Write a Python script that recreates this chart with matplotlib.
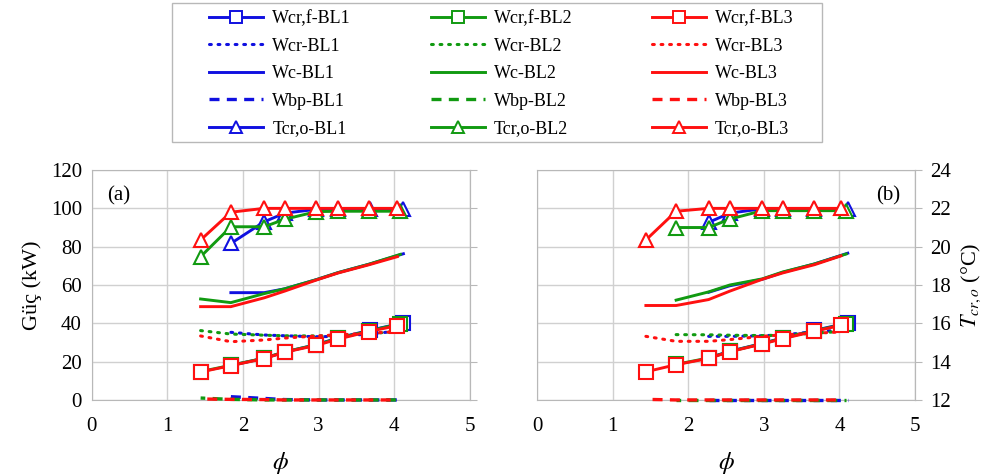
import numpy as np
import matplotlib
matplotlib.use('Agg')
import matplotlib.pyplot as plt
from matplotlib.lines import Line2D
from matplotlib.patches import Rectangle

plt.rcParams['font.family'] = ['Liberation Serif', 'DejaVu Serif']
plt.rcParams['mathtext.fontset'] = 'stix'

# ---- data, panel (a) ----
phi_a1 = [1.84, 2.28, 2.55, 2.97, 3.26, 3.68, 4.12]
phi_a2 = [1.44, 1.84, 2.28, 2.55, 2.97, 3.26, 3.66, 4.08]
phi_a3 = [1.44, 1.84, 2.28, 2.55, 2.97, 3.26, 3.66, 4.04]

wcrf_a1 = [18.0, 21.8, 25.0, 28.9, 32.4, 36.4, 40.2]
wcrf_a2 = [14.8, 18.1, 21.8, 25.1, 28.8, 32.2, 36.0, 39.8]
wcrf_a3 = [14.6, 17.9, 21.6, 24.9, 28.5, 31.8, 35.7, 38.8]

wcr_a1 = [35.3, 33.9, 33.5, 33.0, 33.2, 34.5, 36.2]
wcr_a2 = [36.2, 34.4, 33.8, 33.5, 33.4, 33.6, 34.6, 35.8]
wcr_a3 = [33.4, 30.4, 31.3, 32.3, 33.4, 34.0, 34.8, 35.7]

wc_a1 = [56.0, 56.0, 58.0, 62.8, 66.5, 71.0, 76.3]
wc_a2 = [52.7, 50.8, 55.5, 58.0, 62.8, 66.5, 70.8, 76.0]
wc_a3 = [48.7, 48.7, 53.3, 56.8, 62.6, 66.3, 70.5, 74.8]

wbp_a1 = [1.7, 0.8, 0.2, 0.0, 0.0, 0.0, 0.0]
wbp_a2 = [1.0, 0.3, 0.0, 0.0, 0.0, 0.0, 0.0, 0.0]
wbp_a3 = [0.5, 0.3, 0.2, 0.0, 0.0, 0.0, 0.0, 0.0]

tcro_a1 = [20.17, 21.30, 21.75, 21.95, 21.98, 21.98, 21.95]
tcro_a2 = [19.48, 21.04, 21.04, 21.43, 21.83, 21.85, 21.85, 21.85]
tcro_a3 = [20.35, 21.80, 22.0, 22.0, 22.0, 22.0, 22.0, 22.0]

# ---- data, panel (b) ----
phi_b1 = [2.27, 2.55, 2.98, 3.25, 3.67, 4.11]
phi_b2 = [1.84, 2.27, 2.55, 2.98, 3.25, 3.67, 4.09]
phi_b3 = [1.44, 1.84, 2.27, 2.55, 2.98, 3.25, 3.67, 4.02]

wcrf_b1 = [22.0, 25.4, 29.5, 32.4, 36.3, 40.2]
wcrf_b2 = [18.6, 21.9, 25.3, 29.4, 32.2, 36.1, 39.8]
wcrf_b3 = [14.7, 18.4, 21.7, 25.2, 29.2, 32.0, 35.8, 39.0]

wcr_b1 = [33.2, 33.2, 33.5, 34.0, 35.5, 36.8]
wcr_b2 = [34.1, 34.0, 33.8, 33.6, 33.8, 34.8, 36.0]
wcr_b3 = [33.2, 30.6, 30.6, 31.5, 33.2, 34.0, 34.8, 35.5]

wc_b1 = [56.2, 59.6, 63.0, 66.6, 71.0, 76.6]
wc_b2 = [52.1, 56.4, 60.0, 63.2, 66.8, 71.0, 76.2]
wc_b3 = [49.3, 49.3, 52.4, 56.8, 63.0, 66.3, 70.6, 75.2]

wbp_b1 = [0.0, 0.0, 0.0, 0.0, 0.0, 0.0]
wbp_b2 = [0.0, 0.0, 0.0, 0.0, 0.0, 0.0, 0.0]
wbp_b3 = [0.3, 0.0, 0.0, 0.0, 0.0, 0.0, 0.0, 0.0]

tcro_b1 = [21.27, 21.75, 21.98, 21.98, 21.98, 21.95]
tcro_b2 = [21.00, 21.00, 21.44, 21.88, 21.88, 21.88, 21.88]
tcro_b3 = [20.35, 21.85, 22.0, 22.0, 22.0, 22.0, 22.0, 22.0]

colors = ['#1010e0', '#119a11', '#ff1010']
bl_names = ['BL1', 'BL2', 'BL3']
gridc = '#d0d0d0'
spc = '#b8b8b8'

panels = [
    ([phi_a1, phi_a2, phi_a3], [wcrf_a1, wcrf_a2, wcrf_a3], [wcr_a1, wcr_a2, wcr_a3],
     [wc_a1, wc_a2, wc_a3], [wbp_a1, wbp_a2, wbp_a3], [tcro_a1, tcro_a2, tcro_a3]),
    ([phi_b1, phi_b2, phi_b3], [wcrf_b1, wcrf_b2, wcrf_b3], [wcr_b1, wcr_b2, wcr_b3],
     [wc_b1, wc_b2, wc_b3], [wbp_b1, wbp_b2, wbp_b3], [tcro_b1, tcro_b2, tcro_b3]),
]

fig = plt.figure(figsize=(9.93, 4.75), dpi=100)
ax_rects = [[0.0923, 0.158, 0.381, 0.484], [0.5408, 0.158, 0.3807, 0.484]]

lw = 2.1
dot = dict(ls=(0, (0.6, 2.2)), lw=2.2, dash_capstyle='round')
dash = dict(ls=(0, (3, 2.2)), lw=2.4)
dash_offsets = [0, 1.6, 3.2]  # shift dash phase so all three colours show along y=0
for i, (rect, data) in enumerate(zip(ax_rects, panels)):
    phis, wcrf, wcr, wc, wbp, tcro = data
    ax = fig.add_axes(rect)
    ax2 = ax.twinx()
    for k in range(3):
        c = colors[k]
        ax.plot(phis[k], wcr[k], color=c, **dot)
        ax.plot(phis[k], wc[k], '-', color=c, lw=lw)
        ax.plot(phis[k], wbp[k], color=c, clip_on=False, zorder=3, lw=2.4,
                ls=(dash_offsets[k], (3, 2.2)))
        ax.plot(phis[k], wcrf[k], '-', color=c, lw=lw, marker='s', ms=9.5,
                mfc='white', mec=c, mew=1.5)
        ax2.plot(phis[k], tcro[k], '-', color=c, lw=lw, marker='^', ms=9.5,
                 mfc='white', mec=c, mew=1.5)
    ax.set_xlim(0, 5)
    ax.set_ylim(0, 120)
    ax.set_xticks(range(6))
    ax.set_yticks(range(0, 121, 20))
    ax2.set_ylim(12, 24)
    ax2.set_yticks(range(12, 25, 2))
    ax.grid(True, color=gridc, lw=1.0)
    ax.set_axisbelow(True)
    for s in ax.spines.values():
        s.set_color(spc)
    for name in ('top', 'bottom', 'left'):
        ax2.spines[name].set_visible(False)
    ax2.spines['right'].set_color(spc)
    ax.tick_params(axis='y', length=0, labelsize=15, pad=7)
    ax.tick_params(axis='x', length=0, labelsize=15, pad=12)
    ax2.tick_params(axis='y', length=5, color=spc, direction='out', labelsize=15, pad=6)
    ax.set_xlabel(r'$\phi$', fontsize=18, labelpad=10)
    if i == 0:
        ax.set_ylabel('Güç (kW)', fontsize=16, labelpad=6)
        ax2.set_yticklabels([])
        ax.text(0.04, 0.93, '(a)', transform=ax.transAxes, fontsize=15, va='top', ha='left')
    else:
        ax.set_yticklabels([])
        ax2.set_ylabel(r'$T_{cr,o}$ (°C)', fontsize=16, labelpad=6)
        ax.text(0.96, 0.93, '(b)', transform=ax.transAxes, fontsize=15, va='top', ha='right')

# legend: column-major order so rows read Wcr,f / Wcr / Wc / Wbp / Tcr,o
handles, labels = [], []
for k in range(3):
    c = colors[k]
    n = bl_names[k]
    handles += [
        Line2D([], [], color=c, lw=lw, marker='s', ms=8, mfc='white', mec=c, mew=1.4),
        Line2D([], [], color=c, **dot),
        Line2D([], [], color=c, lw=lw, ls='-'),
        Line2D([], [], color=c, **dash),
        Line2D([], [], color=c, lw=lw, marker='^', ms=8, mfc='white', mec=c, mew=1.4),
    ]
    labels += ['Wcr,f-' + n, 'Wcr-' + n, 'Wc-' + n, 'Wbp-' + n, 'Tcr,o-' + n]

leg = fig.legend(handles, labels, ncol=3, loc='upper center', bbox_to_anchor=(0.505, 0.988),
                 fontsize=13, frameon=False, borderaxespad=0,
                 handlelength=3.0, handletextpad=0.5, columnspacing=4.4,
                 labelspacing=0.58, borderpad=0.25, numpoints=1)

# legend frame
fig.patches.append(Rectangle((172 / 993, 1 - 142 / 475), 650 / 993, 139 / 475,
                             transform=fig.transFigure, fill=False, edgecolor=spc, lw=1.0))

fig.savefig('out.png', dpi=100)
